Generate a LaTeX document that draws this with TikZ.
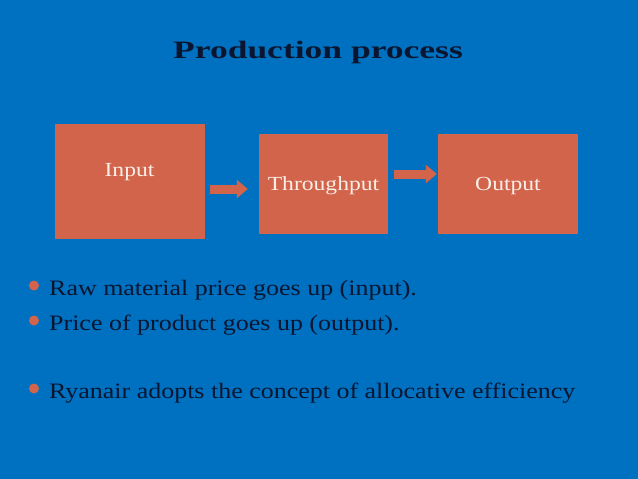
\documentclass[tikz,border=0pt]{standalone}
\usepackage{fontspec}
\setmainfont{Liberation Serif}
\newfontfamily\titlefont[FakeStretch=1.42]{Liberation Serif}
\newfontfamily\boxfont[FakeStretch=1.18]{Liberation Serif}
\newfontfamily\itemfont[FakeStretch=1.18]{Liberation Serif}
\usetikzlibrary{arrows.meta,positioning}
\definecolor{slideblue}{RGB}{0,112,192}
\definecolor{boxorange}{RGB}{209,100,74}
\definecolor{boxtxt}{RGB}{250,238,232}
\definecolor{navy}{RGB}{10,22,48}

\begin{document}
\begin{tikzpicture}[
    x=1pt, y=-1pt,
    box/.style={fill=boxorange, draw=none, inner sep=0pt},
    boxtext/.style={text=boxtxt, font=\boxfont\fontsize{20}{24}\selectfont},
    flow/.style={boxorange, line width=9pt,
        -{Triangle[length=11pt,width=18pt]}},
    item/.style={anchor=base west, text=navy, inner sep=0pt,
        font=\itemfont\fontsize{22}{26}\selectfont}
]
    % slide
    \fill[slideblue] (0,0) rectangle (638,479);
    \useasboundingbox (0,0) rectangle (638,479);

    \node[anchor=base, text=navy, font=\titlefont\bfseries\fontsize{25}{30}\selectfont]
        (title) at (318,58) {Production process};

    % process boxes
    \node[box, minimum width=150pt, minimum height=115pt,
        label={[boxtext, yshift=9.5pt]center:Input}] (input) at (129.5,181.5) {};
    \node[box, minimum width=129pt, minimum height=100pt,
        label={[boxtext, yshift=-2pt]center:Throughput}] (throughput) at (323.5,184) {};
    \node[box, minimum width=140pt, minimum height=100pt,
        label={[boxtext, yshift=-2pt]center:Output}] (output) at (508,184) {};

    % arrows
    \draw[flow] ([shift={(5,7.5)}]input.east) -- ([shift={(-11,5)}]throughput.west);
    \draw[flow] ([shift={(6,-10)}]throughput.east) -- ([shift={(-1,-10)}]output.west);

    % bullets
    \node[item] (raw) at (49,295) {Raw material price goes up (input).};
    \node[item] (price) at (49,330) {Price of product goes up (output).};
    \node[item] (ryanair) at (49,398) {Ryanair adopts the concept of allocative efficiency};
    \foreach \n in {raw,price,ryanair}
        \fill[boxorange] ([xshift=-15pt,yshift=9.5pt]\n.base west) circle (5pt);
\end{tikzpicture}
\end{document}
